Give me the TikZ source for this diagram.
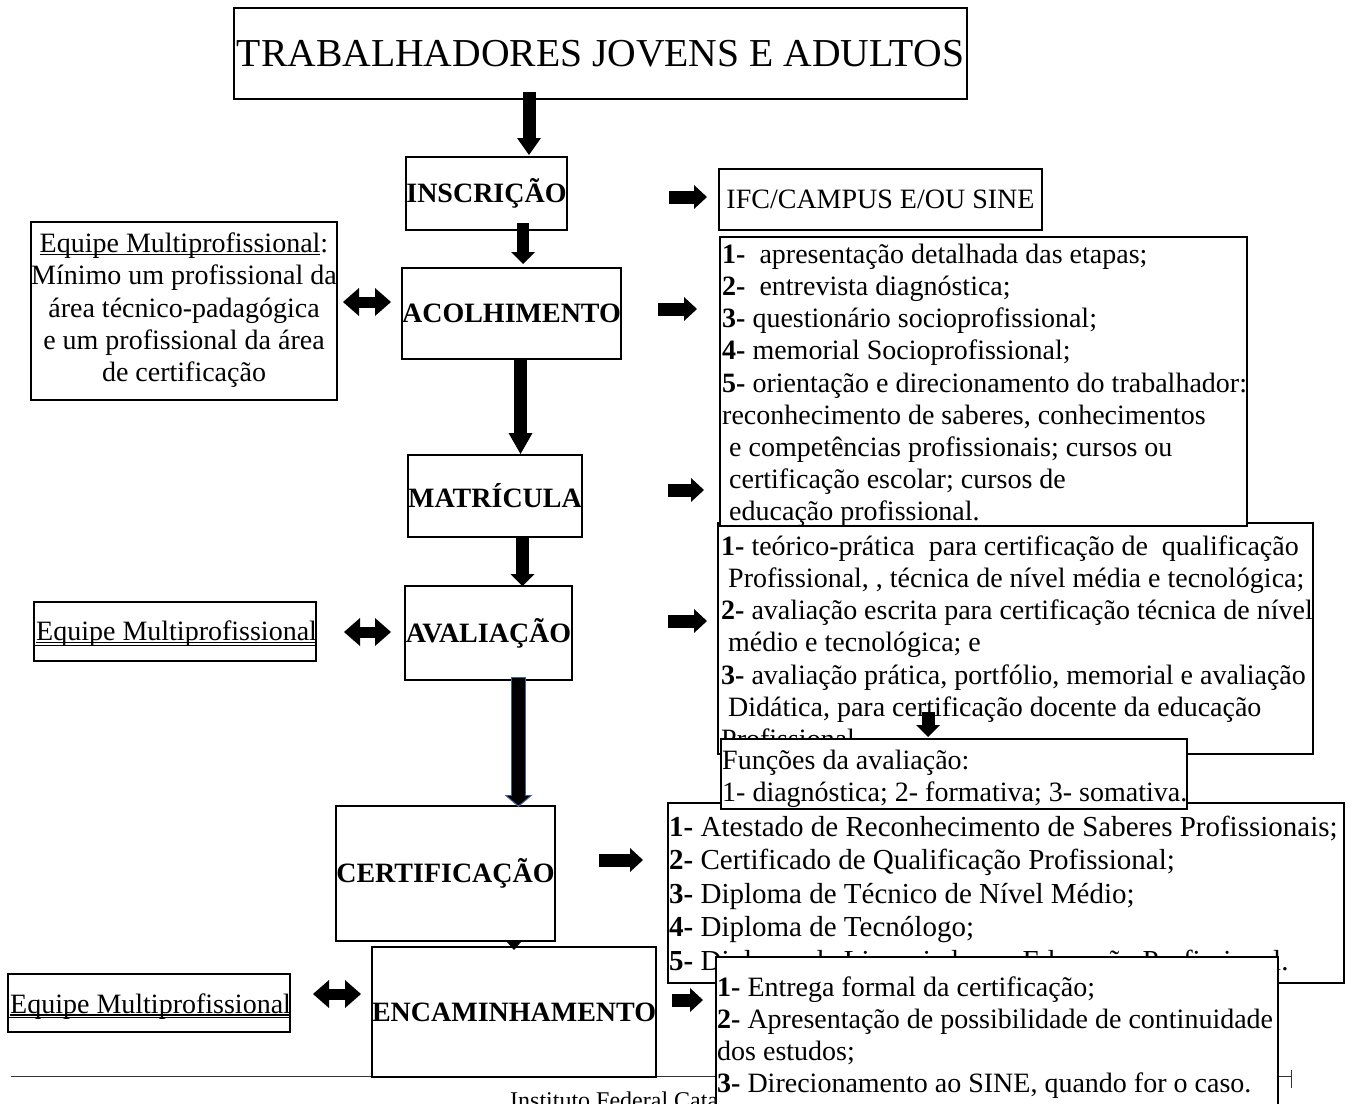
\documentclass[tikz,border=0pt]{standalone}
\usepackage{fontspec}
\setmainfont{Liberation Serif}
\usetikzlibrary{arrows.meta}
\newcommand{\fsA}{\fontsize{28}{32.2}\selectfont}
\newcommand{\fsB}{\fontsize{29}{33.5}\selectfont}
\newcommand{\myul}[1]{\leavevmode\setbox0=\hbox{#1}\rlap{\rule[-2.6pt]{\wd0}{1.3pt}}\box0}
\definecolor{arrblue}{RGB}{62,100,160}
\begin{document}
\begin{tikzpicture}[x=1pt,y=-1pt,
  bx/.style={draw, line width=1.5pt, fill=white, inner sep=0pt, outer sep=0pt, anchor=north west},
  mainbox/.style={bx, font=\fsA\bfseries},
  lst/.style={inner sep=0pt, anchor=north west, align=left, font=\fsA},
  blk/.style={line width=13pt, -{Triangle[length=13pt,width=24pt,line width=0pt]}},
  dbl/.style={line width=11pt, {Triangle[length=16pt,width=28pt,line width=0pt]}-{Triangle[length=16pt,width=28pt,line width=0pt]}}
]
\useasboundingbox (0,0) rectangle (1360,1103);
\fill[white] (0,0) rectangle (1360,1103);

% footer
\coordinate (fl1) at (11,1076);
\coordinate (fl2) at (1291,1076);
\coordinate (ft1) at (1291,1070);
\coordinate (ft2) at (1291,1088);
\draw[line width=1pt, black!80] (fl1) -- (fl2);
\draw[line width=1pt, black!80] (ft1) -- (ft2);
\node[inner sep=0pt, anchor=base west, font=\fontsize{24}{28}\selectfont] (foot) at (510,1108) {Instituto Federal Catarinense};

% main flow boxes
\node[bx, minimum width=733pt, minimum height=91pt, font=\fontsize{39.6}{46}\selectfont] (title) at (234,8) {TRABALHADORES JOVENS E ADULTOS};
\node[mainbox, minimum width=161pt, minimum height=73pt] (inscr) at (406,157) {INSCRIÇÃO};
\node[mainbox, minimum width=219pt, minimum height=91pt] (acol) at (402,268) {ACOLHIMENTO};
\node[mainbox, minimum width=174pt, minimum height=82pt] (matr) at (408,455) {MATRÍCULA};
\node[mainbox, minimum width=167pt, minimum height=94pt] (aval) at (405,586) {AVALIAÇÃO};
\node[mainbox, minimum width=282pt, minimum height=130pt] (encam) at (372,947) {ENCAMINHAMENTO};
\coordinate (a6s) at (514,900);
\coordinate (a6e) at (514,950);
\draw[line width=12pt, -{Triangle[length=12pt,width=21pt,line width=0pt]}] (a6s) -- (a6e);
\node[mainbox, minimum width=219pt, minimum height=135pt] (cert) at (336,806) {CERTIFICAÇÃO};

% left boxes
\node[bx, minimum width=306pt, minimum height=178pt] (eq1) at (31,222) {};
\node[inner sep=0pt, anchor=north, align=center, font=\fsA] (eq1t) at (184,230)
  {\strut\myul{Equipe Multiprofissional}:\\ Mínimo um profissional da\\ área técnico-padagógica\\ e um profissional da área\\ de certificação};
\node[bx, minimum width=282pt, minimum height=59pt] (eq2) at (34,602) {};
\node[inner sep=0pt, anchor=base west, font=\fsA] (eq2t) at (36,640.5) {\myul{Equipe Multiprofissional}};
\draw[line width=1.3pt] (eq2.west |- 0,645.3) -- (eq2.east |- 0,645.3);
\node[bx, minimum width=282pt, minimum height=58pt] (eq3) at (8,974) {};
\node[inner sep=0pt, anchor=base west, font=\fsA] (eq3t) at (10,1013) {\myul{Equipe Multiprofissional}};
\draw[line width=1.3pt] (eq3.west |- 0,1017.6) -- (eq3.east |- 0,1017.6);

% right boxes
\node[bx, minimum width=323pt, minimum height=61pt, font=\fsA] (ifc) at (719,169) {IFC/CAMPUS E/OU SINE};

\node[bx, minimum width=595pt, minimum height=231pt] (avl) at (718,523) {};
\node[lst] (avlt) at (721,532.5) {\strut\textbf{1-} teórico-prática\ \ para certificação de\ \ qualificação\\
\hspace*{7pt}Profissional, , técnica de nível média e tecnológica;\\
\textbf{2-} avaliação escrita para certificação técnica de nível\\
\hspace*{7pt}médio e tecnológica; e\\
\textbf{3-} avaliação prática, portfólio, memorial e avaliação\\
\hspace*{7pt}Didática, para certificação docente da educação\\
Profissional};

\node[bx, minimum width=527pt, minimum height=289pt] (acl) at (720,237) {};
\node[lst] (aclt) at (722,240.5) {\strut\textbf{1-}\ \ apresentação detalhada das etapas;\\
\textbf{2-}\ \ entrevista diagnóstica;\\
\textbf{3-} questionário socioprofissional;\\
\textbf{4-} memorial Socioprofissional;\\
\textbf{5-} orientação e direcionamento do trabalhador:\\
reconhecimento de saberes, conhecimentos\\
\hspace*{7pt}e competências profissionais; cursos ou\\
\hspace*{7pt}certificação escolar; cursos de\\
\hspace*{7pt}educação profissional.};

\node[bx, minimum width=676pt, minimum height=180pt] (crt) at (668,803) {};
\node[lst, font=\fsB] (crtt) at (669,812.5) {\strut\textbf{1-} Atestado de Reconhecimento de Saberes Profissionais;\\
\textbf{2-} Certificado de Qualificação Profissional;\\
\textbf{3-} Diploma de Técnico de Nível Médio;\\
\textbf{4-} Diploma de Tecnólogo;\\
\textbf{5-} Diploma de Licenciado em Educação Profissional.};

\node[bx, minimum width=466pt, minimum height=70pt] (func) at (721,739) {};
\node[lst] (funct) at (722,746.5) {\strut Funções da avaliação:\\ 1- diagnóstica; 2- formativa; 3- somativa.};
\coordinate (fa1) at (928,712);
\coordinate (fa2) at (928,737);
\draw[blk, -{Triangle[length=12pt,width=24pt,line width=0pt]}] (fa1) -- (fa2);

\node[bx, minimum width=562pt, minimum height=160pt] (enl) at (716,957) {};
\node[lst] (enlt) at (717,973.5) {\strut\textbf{1-} Entrega formal da certificação;\\
\textbf{2-} Apresentação de possibilidade de continuidade\\
dos estudos;\\
\textbf{3-} Direcionamento ao SINE, quando for o caso.};

% vertical arrows
\coordinate (a1s) at (529,92);  \coordinate (a1e) at (529,155);
\draw[blk, -{Triangle[length=17pt,width=24pt,line width=0pt]}] (a1s) -- (a1e);
\coordinate (a2s) at (523,223); \coordinate (a2e) at (523,264);
\draw[blk, line width=12pt, -{Triangle[length=12pt,width=24pt,line width=0pt]}] (a2s) -- (a2e);
\coordinate (a3s) at (520.5,358); \coordinate (a3e) at (520.5,454);
\draw[blk, -{Triangle[length=21pt,width=24pt,line width=0pt]}] (a3s) -- (a3e);
\coordinate (a4s) at (522.5,536); \coordinate (a4e) at (522.5,586);
\draw[blk, -{Triangle[length=12pt,width=24pt,line width=0pt]}] (a4s) -- (a4e);
\coordinate (a5s) at (518.5,677); \coordinate (a5e) at (518.5,807);
\coordinate (a5t) at (518.5,678); \coordinate (a5f) at (518.5,805.3);
\draw[line width=15.5pt, arrblue, -{Triangle[length=12pt,width=28pt,line width=0pt]}] (a5s) -- (a5e);
\draw[line width=12.5pt, black, -{Triangle[length=9.5pt,width=23pt,line width=0pt]}] (a5t) -- (a5f);

% right arrows
\coordinate (r1s) at (669,197); \coordinate (r1e) at (707,197);
\draw[blk] (r1s) -- (r1e);
\coordinate (r2s) at (658,309); \coordinate (r2e) at (697,309);
\draw[blk] (r2s) -- (r2e);
\coordinate (r3s) at (668,490); \coordinate (r3e) at (704,490);
\draw[blk] (r3s) -- (r3e);
\coordinate (r4s) at (668,621); \coordinate (r4e) at (707,621);
\draw[blk] (r4s) -- (r4e);
\coordinate (r5s) at (599,860); \coordinate (r5e) at (643,860);
\draw[blk] (r5s) -- (r5e);
\coordinate (r6s) at (672,1000); \coordinate (r6e) at (703,1000);
\draw[blk] (r6s) -- (r6e);

% double arrows
\coordinate (d1s) at (343,302); \coordinate (d1e) at (391,302);
\draw[dbl] (d1s) -- (d1e);
\coordinate (d2s) at (344,632); \coordinate (d2e) at (391,632);
\draw[dbl] (d2s) -- (d2e);
\coordinate (d3s) at (313,994); \coordinate (d3e) at (361,994);
\draw[dbl] (d3s) -- (d3e);
\end{tikzpicture}
\end{document}
